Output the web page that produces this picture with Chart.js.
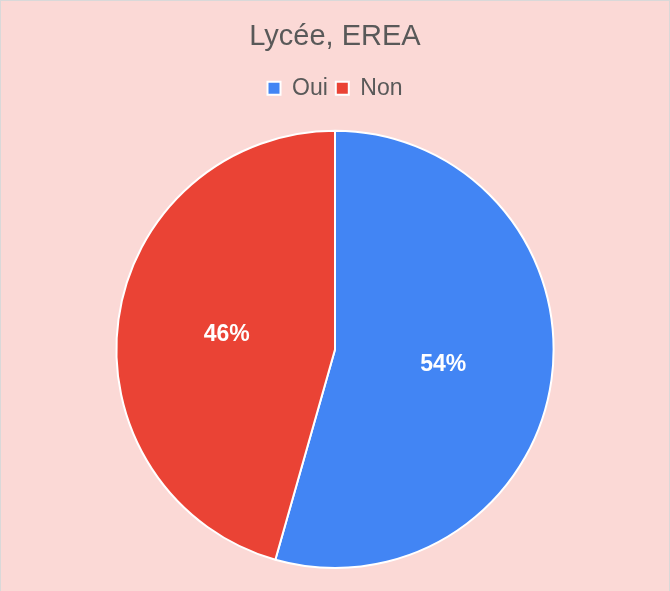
<!DOCTYPE html>
<html>
<head>
<meta charset="utf-8">
<script src="https://cdn.jsdelivr.net/npm/chart.js@4"></script>
<style>
  html, body { margin: 0; padding: 0; background: #fbd9d6; }
  .wrap {
    position: relative;
    width: 668px;
    height: 590px;
    border: 1px solid #d9d9d9;
    border-bottom: none;
    background: #fbd9d6;
  }
</style>
</head>
<body>
<div class="wrap">
  <canvas id="chart" width="668" height="590"></canvas>
</div>
<script>
// donnees du graphique
var titre = 'Lycée, EREA';
var categories = ['Oui', 'Non'];
var valeurs = [54.4, 45.6];
var couleurs = ['#4285f4', '#ea4335'];

// plugin pour ecrire les pourcentages dans les parts
var pourcentPlugin = {
  id: 'pourcent',
  afterDatasetsDraw: function (chart) {
    var ctx = chart.ctx;
    var meta = chart.getDatasetMeta(0);
    var total = valeurs.reduce(function (a, b) { return a + b; }, 0);

    ctx.save();
    ctx.fillStyle = '#ffffff';
    ctx.font = 'bold 23px "Liberation Sans", Arial, sans-serif';
    ctx.textAlign = 'center';
    ctx.textBaseline = 'middle';

    for (var i = 0; i < meta.data.length; i++) {
      var arc = meta.data[i];
      var p = arc.getProps(['x', 'y', 'startAngle', 'endAngle', 'outerRadius']);
      var mid = (p.startAngle + p.endAngle) / 2;
      var r = p.outerRadius * 0.5;
      var txt = Math.round(valeurs[i] / total * 100) + '%';
      ctx.fillText(txt, p.x + Math.cos(mid) * r, p.y + Math.sin(mid) * r);
    }
    ctx.restore();
  }
};

// un peu plus d'espace sous la legende
var espaceLegende = {
  id: 'espaceLegende',
  beforeInit: function (chart) {
    var fitOrig = chart.legend.fit;
    chart.legend.fit = function () {
      fitOrig.bind(chart.legend)();
      this.height += 20;
    };
  }
};

var canvas = document.getElementById('chart');

var chart = new Chart(canvas, {
  type: 'pie',
  data: {
    labels: categories,
    datasets: [{
      data: valeurs,
      backgroundColor: couleurs,
      borderColor: '#ffffff',
      borderWidth: 2
    }]
  },
  options: {
    responsive: false,
    animation: false,
    layout: {
      padding: { top: 0, bottom: 22, left: 0, right: 0 }
    },
    plugins: {
      title: {
        display: true,
        text: titre,
        color: '#595959',
        font: { family: '"Liberation Sans", Arial, sans-serif', size: 29, weight: 'normal' },
        padding: { top: 19, bottom: 14 }
      },
      legend: {
        position: 'top',
        labels: {
          color: '#595959',
          font: { family: '"Liberation Sans", Arial, sans-serif', size: 23 },
          boxWidth: 13,
          boxHeight: 13,
          padding: 8
        }
      },
      tooltip: { enabled: false }
    }
  },
  plugins: [pourcentPlugin, espaceLegende]
});
</script>
</body>
</html>
